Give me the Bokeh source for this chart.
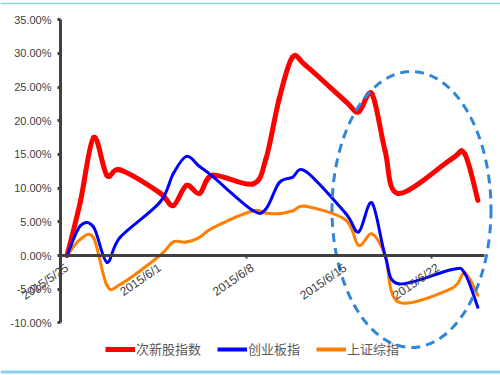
import numpy as np
import pandas as pd
from bokeh.plotting import figure
from bokeh.models import (FixedTicker, PrintfTickFormatter, Legend, LegendItem,
                          ColumnDataSource)
from bokeh.embed import file_html
from bokeh.resources import INLINE

# ---------------- data ----------------
dates = ["2015-05-25", "2015-05-26", "2015-05-27", "2015-05-28", "2015-05-29",
         "2015-06-01", "2015-06-02", "2015-06-03", "2015-06-04", "2015-06-05",
         "2015-06-08", "2015-06-09", "2015-06-10", "2015-06-11", "2015-06-12",
         "2015-06-15", "2015-06-16", "2015-06-17", "2015-06-18", "2015-06-19",
         "2015-06-23", "2015-06-24", "2015-06-25"]

series_names = ["次新股指数", "创业板指", "上证综指"]

cixin = [0.0, 8.0, 17.5, 11.9, 12.7,
         9.3, 7.4, 10.4, 9.2, 11.9,
         10.6, 14.3, 23.2, 29.4, 28.2,
         22.9, 21.3, 24.0, 15.5, 9.2,
         14.3, 15.1, 8.2]

chuangye = [0.0, 4.4, 4.2, -1.0, 2.7,
            7.9, 12.1, 14.7, 13.2, 11.7,
            6.7, 6.9, 10.8, 11.6, 12.5,
            6.3, 3.5, 7.8, 0.0, -4.2,
            -2.1, -2.6, -7.7]

shangzheng = [0.0, 2.4, 2.6, -4.4, -4.3,
              0.0, 2.0, 2.0, 2.7, 4.1,
              6.6, 6.3, 6.2, 6.6, 7.3,
              5.3, 1.5, 3.2, 0.0, -6.9,
              -4.9, -2.6, -5.9]

x_start = "2015-05-25"
x_end = "2015-06-26"
x_label_dates = ["2015-05-25", "2015-06-01", "2015-06-08", "2015-06-15", "2015-06-22"]
x_labels = ["2015/5/25", "2015/6/1", "2015/6/8", "2015/6/15", "2015/6/22"]
y_ticks = [-10, -5, 0, 5, 10, 15, 20, 25, 30, 35]

# ---------------- layout / styling ----------------
W, H = 500, 375
plot_left, plot_right = 60.0, 484.0      # pixel position of axis extents
plot_top, plot_bottom = 19.1, 322.4
colors = ["#FF0000", "#0000FF", "#FF7F00"]
widths = [5, 3, 3]
legend_widths = [5, 4, 4]
axis_color = "#404040"
label_color = "#404040"
ellipse_color = "#2F86DA"
border_color = "#86D2F0"

t0 = pd.Timestamp(x_start)
def slot(d):
    return (pd.Timestamp(d) - t0).days

xs = np.array([slot(d) + 0.5 for d in dates])  # points centred in their day slot
x_max = slot(x_end)

# data ranges extended so the frame fills the whole canvas (axes drawn inside)
px_per_x = (plot_right - plot_left) / x_max
px_per_y = (plot_bottom - plot_top) / (y_ticks[-1] - y_ticks[0])
x_lo = -plot_left / px_per_x
x_hi = x_max + (W - plot_right) / px_per_x
y_hi = y_ticks[-1] + plot_top / px_per_y
y_lo = y_ticks[0] - (H - plot_bottom) / px_per_y

def px_to_x(px):
    return x_lo + px / px_per_x

def px_to_y(py):
    return y_hi - py / px_per_y

def smooth_segments(x, y):
    x = np.asarray(x, float)
    y = np.asarray(y, float)
    n = len(x)
    xp = np.concatenate([[x[0]], x, [x[-1]]])
    yp = np.concatenate([[y[0]], y, [y[-1]]])
    x0, y0 = x[:-1], y[:-1]
    x1, y1 = x[1:], y[1:]
    cx0 = x0 + (xp[2:n + 1] - xp[0:n - 1]) / 6.0
    cy0 = y0 + (yp[2:n + 1] - yp[0:n - 1]) / 6.0
    cx1 = x1 - (xp[3:n + 2] - xp[1:n]) / 6.0
    cy1 = y1 - (yp[3:n + 2] - yp[1:n]) / 6.0
    return dict(x0=x0, y0=y0, x1=x1, y1=y1, cx0=cx0, cy0=cy0, cx1=cx1, cy1=cy1)

p = figure(width=W, height=H, x_range=(x_lo, x_hi), y_range=(y_lo, y_hi),
           output_backend="svg", toolbar_location=None,
           min_border_left=0, min_border_right=0, min_border_top=0, min_border_bottom=0)
p.outline_line_color = None
p.xgrid.visible = False
p.ygrid.visible = False
p.background_fill_color = "white"
p.border_fill_color = "white"

# y axis (at x = first day boundary)
ya = p.yaxis[0]
ya.fixed_location = 0
ya.bounds = (y_ticks[0], y_ticks[-1])
ya.ticker = FixedTicker(ticks=y_ticks, minor_ticks=[])
ya.formatter = PrintfTickFormatter(format="%.2f%%")
ya.axis_line_color = axis_color
ya.axis_line_width = 3
ya.major_tick_line_color = axis_color
ya.major_tick_line_width = 3
ya.major_tick_out = 3
ya.major_tick_in = 0
ya.minor_tick_line_color = None
ya.major_label_text_font = "Liberation Sans"
ya.major_label_text_font_size = "11px"
ya.major_label_text_color = label_color
ya.major_label_standoff = 6

# x axis at y = 0
xa = p.xaxis[0]
label_pos = [slot(d) + 0.5 for d in x_label_dates]
tick_marks = [slot(d) for d in x_label_dates[::2]]
xa.fixed_location = 0
xa.bounds = (0, x_max)
xa.ticker = FixedTicker(ticks=label_pos, minor_ticks=tick_marks)
xa.major_label_overrides = {pos: lab for pos, lab in zip(label_pos, x_labels)}
xa.axis_line_color = axis_color
xa.axis_line_width = 3
xa.major_tick_line_color = None
xa.minor_tick_line_color = axis_color
xa.minor_tick_line_width = 2
xa.minor_tick_out = 3
xa.minor_tick_in = 0
xa.major_label_orientation = 0.6
xa.major_label_text_font = "Liberation Sans"
xa.major_label_text_font_size = "12px"
xa.major_label_text_color = label_color
xa.major_label_standoff = 5

# slide border lines (top and bottom)
p.segment(x0=[px_to_x(0), px_to_x(0)], y0=[px_to_y(3), px_to_y(371.5)],
          x1=[px_to_x(W), px_to_x(W)], y1=[px_to_y(3), px_to_y(371.5)],
          line_color=border_color, line_width=[1.5, 3])

# series
draw_order = [0, 2, 1]
all_series = [cixin, chuangye, shangzheng]
for i in draw_order:
    src = ColumnDataSource(smooth_segments(xs, all_series[i]))
    p.bezier(x0="x0", y0="y0", x1="x1", y1="y1", cx0="cx0", cy0="cy0", cx1="cx1", cy1="cy1",
             source=src, line_color=colors[i], line_width=widths[i], line_cap="round")

# dashed ellipse annotation
ell_cx, ell_cy = px_to_x(411), px_to_y(209)
ell_w, ell_h = 159 / px_per_x, 276 / px_per_y
p.ellipse(x=[ell_cx], y=[ell_cy], width=ell_w, height=ell_h,
          fill_color=None, line_color=ellipse_color, line_width=3, line_dash="9 6")

# legend (single-point proxy lines: nothing drawn in the plot, only legend swatches)
items = []
for i in range(3):
    r = p.line(x=xs[:1], y=all_series[i][:1], line_color=colors[i], line_width=legend_widths[i])
    items.append(LegendItem(label=series_names[i], renderers=[r]))
legend = Legend(items=items, orientation="horizontal", location=(105, 17),
                glyph_width=30, glyph_height=16, label_height=16, label_standoff=1,
                spacing=16, padding=0, margin=0, border_line_color=None,
                background_fill_alpha=0,
                label_text_font="Noto Sans CJK SC", label_text_font_size="13px",
                label_text_color="#595959")
p.add_layout(legend)

open("out.html", "w").write(file_html(p, INLINE))
